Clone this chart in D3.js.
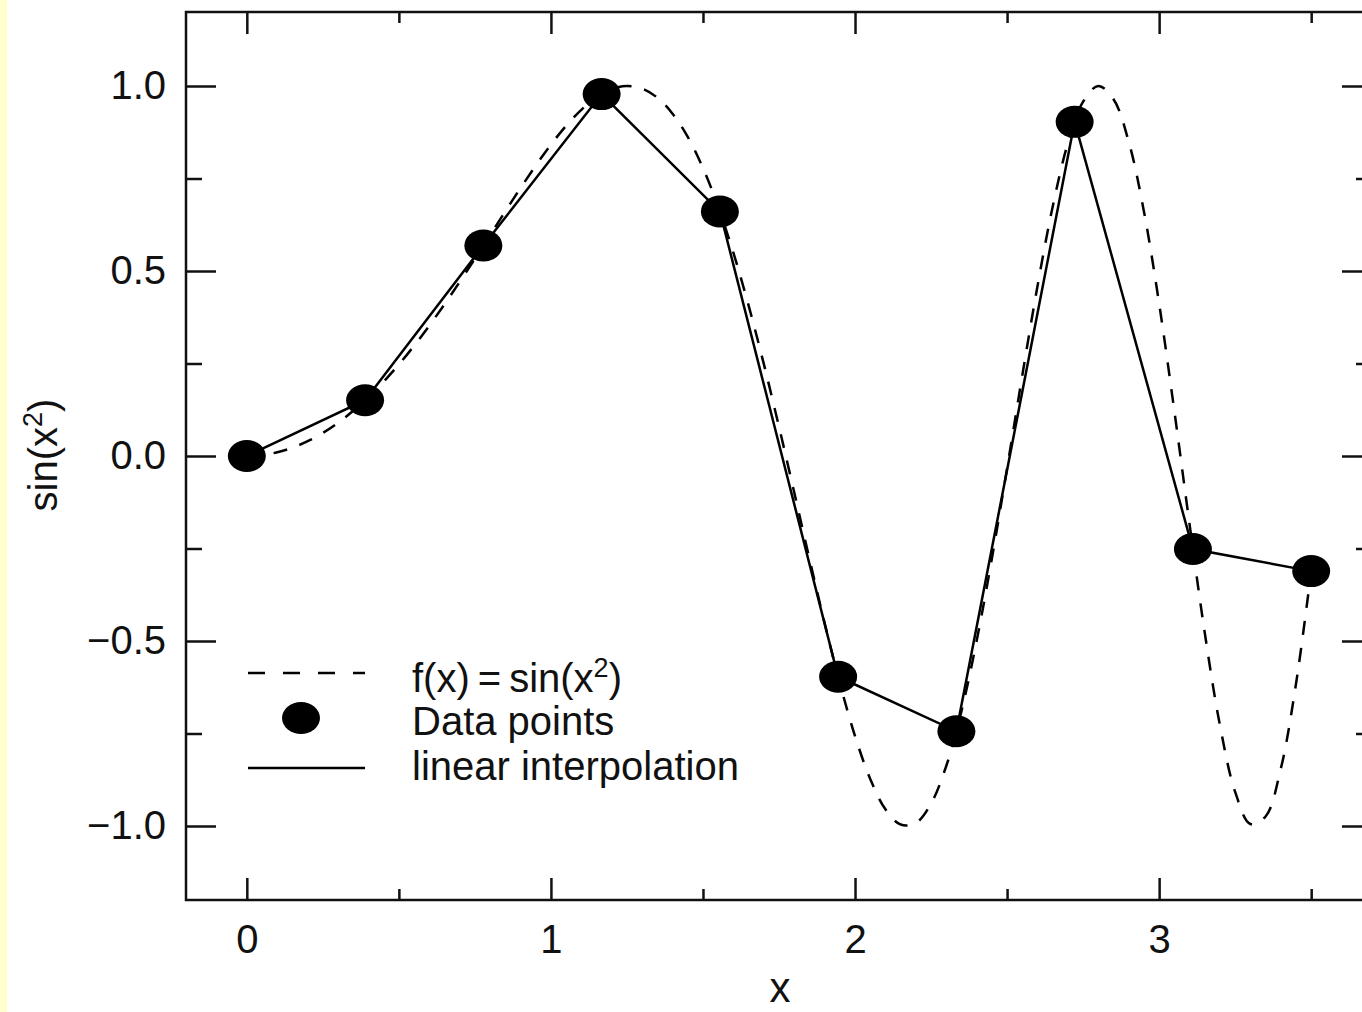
<!DOCTYPE html>
<html>
<head>
<meta charset="utf-8">
<script src="https://cdn.jsdelivr.net/npm/d3@7"></script>
<style>
  html, body { margin: 0; padding: 0; background: #fff; overflow: hidden; }
  svg { display: block; font-family: "Liberation Sans", Arial, Helvetica, sans-serif; }
</style>
</head>
<body>
<script>
const curveX = [0, 0.05, 0.1, 0.15, 0.2, 0.25, 0.3, 0.35, 0.4, 0.45, 0.5, 0.55, 0.6, 0.65, 0.7,
  0.75, 0.8, 0.85, 0.9, 0.95, 1.0, 1.05, 1.1, 1.15, 1.2, 1.25, 1.3, 1.35, 1.4, 1.45, 1.5,
  1.55, 1.6, 1.65, 1.7, 1.75, 1.8, 1.85, 1.9, 1.95, 2.0, 2.05, 2.1, 2.15, 2.2, 2.25, 2.3,
  2.35, 2.4, 2.45, 2.5, 2.55, 2.6, 2.65, 2.7, 2.75, 2.8, 2.85, 2.9, 2.95, 3.0, 3.05, 3.1,
  3.15, 3.2, 3.25, 3.3, 3.35, 3.4, 3.45, 3.5];
const curveY = [0, 0.0025, 0.01, 0.0225, 0.04, 0.0625, 0.0899, 0.1222, 0.1593, 0.2011, 0.2474,
  0.2979, 0.3523, 0.4101, 0.4706, 0.5333, 0.5972, 0.6614, 0.7243, 0.7847, 0.8415, 0.8925,
  0.9356, 0.9694, 0.9915, 1.0, 0.9929, 0.9685, 0.9252, 0.8623, 0.7781, 0.6737, 0.5494,
  0.4069, 0.2489, 0.079, -0.0982, -0.2772, -0.4515, -0.6139, -0.7568, -0.8728, -0.9549,
  -0.996, -0.9918, -0.9393, -0.8378, -0.6894, -0.4996, -0.277, -0.0332, 0.2175, 0.459,
  0.6739, 0.8455, 0.9578, 0.9999, 0.9642, 0.8495, 0.6611, 0.4121, 0.122, -0.1841, -0.4775,
  -0.7279, -0.9077, -0.9945, -0.9742, -0.8453, -0.6162, -0.3111];

// the data points (filled ellipses) joined by straight segments
const pointX = [0, 0.3889, 0.7778, 1.1667, 1.5556, 1.9444, 2.3333, 2.7222, 3.1111, 3.5];
const pointY = [0, 0.1507, 0.5687, 0.9781, 0.6607, -0.5966, -0.744, 0.9031, -0.2515, -0.3111];

const xMajor = [0, 1, 2, 3];
const xMinor = [0.5, 1.5, 2.5, 3.5];
const yMajor = [-1, -0.5, 0, 0.5, 1];
const yMinor = [-0.75, -0.25, 0.25, 0.75];

const legendLabels = ["f(x)\u2009=\u2009sin(x", "Data points", "linear interpolation"];

const width = 1362,
  height = 1012,
  frame = { left: 186, top: 12, right: 1372, bottom: 900 };

const svg = d3.select("body")
  .append("svg")
  .attr("width", width)
  .attr("height", height);

// pale yellow strip at the left edge
svg.append("rect")
  .attr("x", 0).attr("y", 0)
  .attr("width", 7).attr("height", height)
  .attr("fill", "#ffffcc");

const x = d3.scaleLinear().domain([-0.2, 3.7]).range([frame.left, frame.right]);
const y = d3.scaleLinear().domain([-1.2, 1.2]).range([frame.bottom, frame.top]);

const fmtY = d3.format(".1f");

function addAxis(axis, tx, ty) {
  const g = svg.append("g")
    .attr("transform", `translate(${tx},${ty})`)
    .call(axis);
  g.select(".domain").remove();
  g.selectAll(".tick line").attr("stroke", "#111").attr("stroke-width", 2.5);
  g.selectAll(".tick text")
    .attr("fill", "#111")
    .style("font-size", "40px")
    .style("font-family", '"Liberation Sans", Arial, Helvetica, sans-serif');
  return g;
}

// bottom / top
addAxis(d3.axisBottom(x).tickValues(xMajor).tickSize(-22).tickPadding(25).tickFormat(d3.format("d")), 0, frame.bottom);
addAxis(d3.axisBottom(x).tickValues(xMinor).tickSize(-11).tickFormat(""), 0, frame.bottom);
addAxis(d3.axisTop(x).tickValues(xMajor).tickSize(-22).tickFormat(""), 0, frame.top);
addAxis(d3.axisTop(x).tickValues(xMinor).tickSize(-11).tickFormat(""), 0, frame.top);

// left / right
addAxis(d3.axisLeft(y).tickValues(yMajor).tickSize(-30).tickPadding(20).tickFormat(fmtY), frame.left, 0);
addAxis(d3.axisLeft(y).tickValues(yMinor).tickSize(-16).tickFormat(""), frame.left, 0);
addAxis(d3.axisRight(y).tickValues(yMajor).tickSize(-30).tickFormat(""), frame.right, 0);
addAxis(d3.axisRight(y).tickValues(yMinor).tickSize(-16).tickFormat(""), frame.right, 0);

// frame
svg.append("rect")
  .attr("x", frame.left)
  .attr("y", frame.top)
  .attr("width", frame.right - frame.left)
  .attr("height", frame.bottom - frame.top)
  .attr("fill", "none")
  .attr("stroke", "#111")
  .attr("stroke-width", 2.5);

// dashed function curve
const curveLine = d3.line()
  .x(d => x(d[0]))
  .y(d => y(d[1]))
  .curve(d3.curveCatmullRom.alpha(0.5));

svg.append("path")
  .datum(d3.zip(curveX, curveY))
  .attr("d", curveLine)
  .attr("fill", "none")
  .attr("stroke", "#000")
  .attr("stroke-width", 2.5)
  .attr("stroke-dasharray", "14,13");

// linear interpolation
const points = d3.zip(pointX, pointY);

svg.append("path")
  .datum(points)
  .attr("d", d3.line().x(d => x(d[0])).y(d => y(d[1])))
  .attr("fill", "none")
  .attr("stroke", "#000")
  .attr("stroke-width", 2.5);

// data points
svg.append("g")
  .selectAll("ellipse")
  .data(points)
  .enter()
  .append("ellipse")
  .attr("cx", d => x(d[0]))
  .attr("cy", d => y(d[1]))
  .attr("rx", 19)
  .attr("ry", 16)
  .attr("fill", "#000");

// legend
const legend = svg.append("g").attr("transform", "translate(248,673)");

legend.append("line")
  .attr("x1", 0).attr("x2", 117)
  .attr("y1", 0).attr("y2", 0)
  .attr("stroke", "#000")
  .attr("stroke-width", 2.5)
  .attr("stroke-dasharray", "17,18");

legend.append("ellipse")
  .attr("cx", 53).attr("cy", 45)
  .attr("rx", 19).attr("ry", 16)
  .attr("fill", "#000");

legend.append("line")
  .attr("x1", 0).attr("x2", 117)
  .attr("y1", 95).attr("y2", 95)
  .attr("stroke", "#000")
  .attr("stroke-width", 2.5);

const legendText = legend.append("g")
  .attr("font-size", 40)
  .attr("fill", "#111");

const t0 = legendText.append("text").attr("x", 164).attr("y", 19);
t0.append("tspan").text(legendLabels[0]);
t0.append("tspan").attr("font-size", 27).attr("dy", -15).text("2");
t0.append("tspan").attr("dy", 15).text(")");

legendText.append("text").attr("x", 164).attr("y", 62).text(legendLabels[1]);
legendText.append("text").attr("x", 164).attr("y", 107).text(legendLabels[2]);

// axis titles
svg.append("text")
  .attr("x", 780)
  .attr("y", 1002)
  .attr("text-anchor", "middle")
  .attr("font-size", 42)
  .attr("fill", "#111")
  .text("x");

const yTitle = svg.append("text")
  .attr("transform", "translate(57,455) rotate(-90)")
  .attr("text-anchor", "middle")
  .attr("font-size", 40)
  .attr("fill", "#111");
yTitle.append("tspan").text("sin(x");
yTitle.append("tspan").attr("font-size", 27).attr("dy", -15).text("2");
yTitle.append("tspan").attr("dy", 15).text(")");
</script>
</body>
</html>
